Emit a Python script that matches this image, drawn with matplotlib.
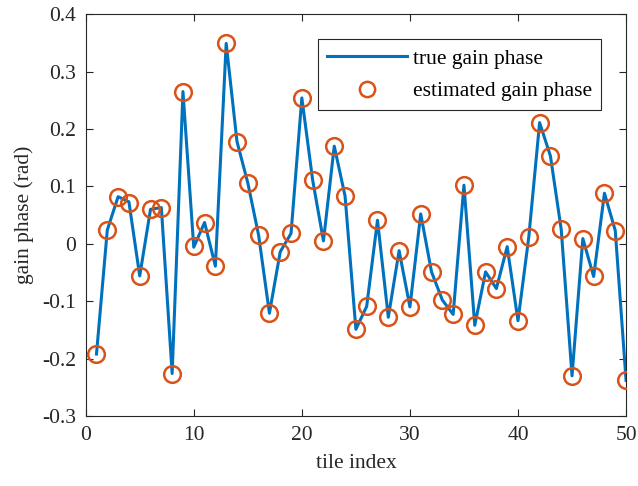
import matplotlib
matplotlib.use("Agg")
import matplotlib.pyplot as plt
import numpy as np

tile_index = list(range(1, 51))
true_phase = [-0.192, 0.024, 0.082, 0.073, -0.056, 0.060, 0.063, -0.226, 0.265, -0.006,
              0.037, -0.039, 0.349, 0.178, 0.106, 0.015, -0.121, -0.014, 0.018, 0.254,
              0.111, 0.005, 0.170, 0.083, -0.149, -0.109, 0.041, -0.128, -0.012, -0.110,
              0.052, -0.049, -0.098, -0.123, 0.102, -0.142, -0.049, -0.078, -0.005, -0.134,
              0.012, 0.211, 0.153, 0.025, -0.230, 0.009, -0.057, 0.088, 0.023, -0.238]
est_phase = [-0.192, 0.024, 0.082, 0.071, -0.056, 0.060, 0.063, -0.226, 0.265, -0.004,
             0.037, -0.039, 0.349, 0.178, 0.106, 0.015, -0.121, -0.014, 0.018, 0.254,
             0.111, 0.005, 0.170, 0.083, -0.149, -0.109, 0.041, -0.128, -0.012, -0.110,
             0.052, -0.049, -0.098, -0.123, 0.102, -0.142, -0.049, -0.078, -0.005, -0.134,
             0.012, 0.211, 0.153, 0.025, -0.230, 0.009, -0.057, 0.088, 0.023, -0.238]

plt.rcParams['font.family'] = ['Liberation Serif', 'DejaVu Serif']
plt.rcParams['mathtext.fontset'] = 'stix'

FS = 15.5
fig = plt.figure(figsize=(6.38, 4.86), dpi=100)
ax = fig.add_axes([0.1343, 0.144, 0.847, 0.827])

ax.plot(tile_index, true_phase, color='#0072BD', lw=2.2, label='true gain phase', zorder=2)
ax.plot(tile_index, est_phase, linestyle='none', marker='o', markersize=12,
        markerfacecolor='none', markeredgecolor='#D95319', markeredgewidth=1.8,
        label='estimated gain phase', zorder=3)

ax.set_xlim(0, 50)
ax.set_ylim(-0.3, 0.4)
ax.set_xticks([0, 10, 20, 30, 40, 50])
ax.set_yticks([-0.3, -0.2, -0.1, 0, 0.1, 0.2, 0.3, 0.4])
ax.set_yticklabels(['-0.3', '-0.2', '-0.1', '0', '0.1', '0.2', '0.3', '0.4'])
ax.tick_params(direction='in', top=True, right=True, labelsize=FS, length=5,
               width=0.8, color='#262626', labelcolor='#262626', pad=7)
for s in ax.spines.values():
    s.set_linewidth(0.8)
    s.set_color('#262626')

ax.set_xlabel('tile index', fontsize=FS, color='#262626', labelpad=7)
ax.set_ylabel('gain phase (rad)', fontsize=FS, color='#262626', labelpad=6)

leg = ax.legend(loc='upper right', bbox_to_anchor=(0.954, 0.937), fontsize=FS,
                frameon=True, fancybox=False, edgecolor='#262626', framealpha=1,
                handlelength=3.7, borderpad=0.42, labelspacing=0.58, handletextpad=0.3,
                borderaxespad=0)
leg.get_frame().set_linewidth(0.8)
leg.legend_handles[1].set_markersize(11)

fig.savefig('out.png', dpi=100)
